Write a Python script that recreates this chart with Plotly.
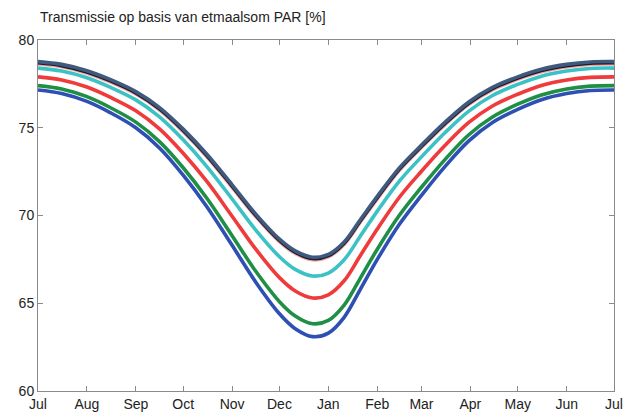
import plotly.graph_objects as go

days = [0, 15, 31, 46, 62, 77, 92, 107, 123, 138, 153, 163, 174, 184, 194, 204,
        215, 229, 243, 258, 273, 288, 304, 319, 335, 350, 365]

blue = [77.15, 76.95, 76.50, 75.85, 75.00, 73.85, 72.30, 70.50, 68.30, 66.20, 64.40, 63.55, 63.10, 63.30,
        64.20, 65.75, 67.50, 69.50, 71.15, 72.80, 74.25, 75.30, 76.05, 76.60, 76.95, 77.12, 77.15]
green = [77.40, 77.21, 76.77, 76.14, 75.32, 74.21, 72.72, 70.98, 68.85, 66.82, 65.09, 64.27, 63.83, 64.02,
         64.89, 66.39, 68.08, 70.01, 71.61, 73.20, 74.60, 75.61, 76.34, 76.87, 77.21, 77.37, 77.40]
red = [77.90, 77.72, 77.32, 76.73, 75.97, 74.94, 73.55, 71.94, 69.96, 68.08, 66.46, 65.70, 65.30, 65.48,
       66.28, 67.68, 69.23, 71.04, 72.52, 74.00, 75.30, 76.24, 76.91, 77.41, 77.72, 77.87, 77.90]
cyan = [78.40, 78.23, 77.85, 77.30, 76.59, 75.62, 74.31, 72.79, 70.94, 69.17, 67.65, 66.93, 66.55, 66.72,
        67.48, 68.79, 70.25, 71.96, 73.34, 74.73, 75.95, 76.84, 77.47, 77.94, 78.23, 78.38, 78.40]
pink = [78.63, 78.47, 78.11, 77.60, 76.92, 76.01, 74.78, 73.35, 71.61, 69.94, 68.51, 67.84, 67.48, 67.64,
        68.35, 69.59, 70.95, 72.57, 73.87, 75.18, 76.33, 77.16, 77.76, 78.19, 78.47, 78.61, 78.63]
black = [78.70, 78.54, 78.18, 77.67, 76.99, 76.08, 74.85, 73.42, 71.68, 70.01, 68.58, 67.91, 67.55, 67.71,
         68.42, 69.66, 71.02, 72.64, 73.94, 75.25, 76.40, 77.23, 77.83, 78.26, 78.54, 78.68, 78.70]
navy = [78.77, 78.61, 78.25, 77.74, 77.06, 76.15, 74.92, 73.49, 71.75, 70.08, 68.65, 67.98, 67.62, 67.78,
        68.49, 69.73, 71.09, 72.71, 74.01, 75.32, 76.47, 77.30, 77.90, 78.33, 78.61, 78.75, 78.77]

month_ticks = [0, 31, 62, 92, 123, 153, 184, 215, 243, 274, 304, 335, 365]
month_labels = ["Jul", "Aug", "Sep", "Oct", "Nov", "Dec", "Jan", "Feb", "Mar", "Apr", "May", "Jun", "Jul"]
y_ticks = [60, 65, 70, 75, 80]

series = [
    (blue, "#2e4fb3"),
    (green, "#1f8f45"),
    (red, "#ef3b3b"),
    (cyan, "#3cc2c4"),
    (pink, "#f0a8ab"),
    (black, "#1c1a22"),
    (navy, "#3f5a7e"),
]

fig = go.Figure()
for vals, col in series:
    fig.add_trace(go.Scatter(x=days, y=vals, mode="lines",
                             line=dict(color=col, width=3.6, shape="spline", smoothing=1.0),
                             showlegend=False, hoverinfo="skip"))

axis_common = dict(showgrid=False, zeroline=False, showline=True, linecolor="#8a8a8a", linewidth=1,
                   mirror="ticks", ticks="inside", ticklen=5, tickcolor="#8a8a8a", automargin=False,
                   tickfont=dict(family="Liberation Sans, Arial, sans-serif", size=14, color="#222222"))

fig.update_xaxes(range=[0, 365], tickvals=month_ticks, ticktext=month_labels, **axis_common)
fig.update_yaxes(range=[60, 80], tickvals=y_ticks, **axis_common)

fig.add_annotation(text="Transmissie op basis van etmaalsom PAR [%]", x=0, xref="paper", xanchor="left",
                   y=1, yref="paper", yanchor="bottom", yshift=13, showarrow=False,
                   font=dict(family="Liberation Sans, Arial, sans-serif", size=14, color="#222222"))

fig.update_layout(width=627, height=417, margin=dict(l=38, r=13, t=40, b=26),
                  paper_bgcolor="white", plot_bgcolor="white")

fig.write_html("out.html", config={"displayModeBar": False},
               post_script="document.body.style.margin='0';document.body.style.overflow='hidden';")
